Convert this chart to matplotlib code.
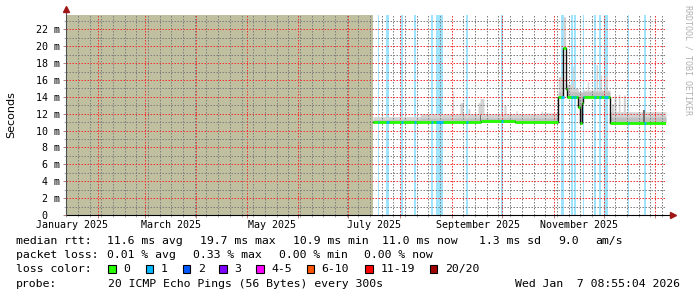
import numpy as np
import pandas as pd
import matplotlib
matplotlib.use('Agg')
import matplotlib.pyplot as plt
import matplotlib.dates as mdates
import matplotlib.ticker as mticker
import matplotlib.transforms as mtransforms
from matplotlib.patches import Rectangle

# ---------------- data ----------------
view_start = '2025-01-12 20:00'
view_end = '2026-01-07 08:55:04'
data_start = '2025-07-15 19:00'

# median rtt (ms), step changes
median_times = ['2025-07-15 19:00', '2025-09-18 12:00', '2025-10-09 00:00', '2025-11-03 19:00',
                '2025-11-06 11:00', '2025-11-06 19:00', '2025-11-08 10:00', '2025-11-09 05:00',
                '2025-11-15 19:00', '2025-11-16 19:00', '2025-11-18 00:00', '2025-11-18 10:00',
                '2025-12-04 19:00']
median_ms = [11.0, 11.15, 11.05, 13.94, 16.2, 19.75, 14.9, 13.94, 12.84, 10.94, 13.3, 14.0, 10.94]

# upper edge of the smoke (ms), step changes
smoke_times = ['2025-07-15 19:00', '2025-08-13 00:00', '2025-09-01 13:00', '2025-09-02 03:00',
               '2025-09-05 22:00', '2025-09-07 17:00', '2025-09-10 17:00', '2025-09-11 22:00',
               '2025-09-16 17:00', '2025-09-17 22:00', '2025-09-20 07:00', '2025-10-02 07:00',
               '2025-10-03 12:00', '2025-10-09 10:00', '2025-10-10 05:00', '2025-10-24 10:00',
               '2025-10-25 05:00', '2025-11-03 19:00', '2025-11-06 19:00', '2025-11-08 05:00',
               '2025-11-12 10:00', '2025-11-13 05:00', '2025-11-15 19:00', '2025-11-18 19:00',
               '2025-11-21 05:00', '2025-11-22 00:00', '2025-11-26 10:00', '2025-11-27 10:00',
               '2025-11-28 19:00', '2025-11-29 19:00', '2025-12-01 23:00', '2025-12-03 05:00',
               '2025-12-04 19:00', '2025-12-05 19:00', '2025-12-06 19:00', '2025-12-07 05:00',
               '2025-12-08 10:00', '2025-12-09 19:00', '2025-12-10 19:00', '2025-12-12 19:00',
               '2025-12-14 00:00']
smoke_top_ms = [11.65, 12.0, 14.6, 12.0,
                13.3, 12.0, 12.6, 12.0,
                13.3, 13.8, 12.0, 13.0,
                12.0, 12.35, 12.0, 12.3,
                12.1, 16.4, 23.5, 15.5,
                17.6, 15.0, 13.5, 14.8,
                15.8, 14.8, 17.8, 14.8,
                16.6, 14.8, 16.5, 14.8,
                12.24, 13.2, 12.24, 14.2,
                12.24, 14.3, 12.24, 14.2,
                12.24]

# denser part of the smoke (ms)
smoke_mid_times = ['2025-07-15 19:00', '2025-08-13 00:00', '2025-11-03 19:00', '2025-12-04 19:00']
smoke_mid_ms = [11.3, 11.5, 14.6, 11.6]

# dark smoke spikes
dark_times = ['2025-09-17 22:00', '2025-12-24 19:00']
dark_days = [0.6, 1.2]
dark_top_ms = [11.8, 12.4]

# intervals with 1 lost ping (loss background)
loss_times = ['2025-07-18 19:00', '2025-07-23 14:00', '2025-08-01 10:00', '2025-08-09 07:00',
              '2025-08-19 07:00', '2025-08-22 12:00', '2025-09-09 07:00', '2025-09-30 12:00',
              '2025-11-05 14:00', '2025-11-11 10:00', '2025-11-13 05:00', '2025-11-18 10:00',
              '2025-11-25 05:00', '2025-11-28 05:00', '2025-12-01 00:00', '2025-12-15 10:00',
              '2025-12-25 02:00']
loss_days = [0.9, 1.8, 1.4, 1.2, 1.2, 4.2, 1.2, 1.2, 1.8, 1.2, 1.2, 0.6, 1.2, 1.2, 2.6, 0.6, 1.2]

month_labels = ['January 2025', 'March 2025', 'May 2025', 'July 2025', 'September 2025', 'November 2025']
month_label_dates = ['2025-01-01', '2025-03-01', '2025-05-01', '2025-07-01', '2025-09-01', '2025-11-01']

rtt_stats = [11.6, 19.7, 10.9, 11.0]
rtt_sd = 1.3
rtt_am = 9.0
loss_stats = [0.01, 0.33, 0.00, 0.00]
loss_legend = ['0', '1', '2', '3', '4-5', '6-10', '11-19', '20/20']
loss_colors = ['#26ff00', '#00b8ff', '#0059ff', '#7e00ff', '#ff00ff', '#ff5500', '#ff0000', '#a10000']
probe_text = '20 ICMP Echo Pings (56 Bytes) every 300s'
stamp_text = 'Wed Jan  7 08:55:04 2026'

# ---------------- figure ----------------
W, H = 697, 297
fig = plt.figure(figsize=(W / 100, H / 100), dpi=100)
fig.patch.set_facecolor('white')
ax = fig.add_axes([66 / W, (H - 215) / H, 600 / W, 200 / H])
ax.set_facecolor('white')

MONO = 'DejaVu Sans Mono'
t_start = pd.Timestamp(view_start)
t_end = pd.Timestamp(view_end)
t_data = pd.Timestamp(data_start)
YMAX = 23.7


def step_eval(times, values, grid):
    tn = mdates.date2num(pd.to_datetime(times))
    idx = np.searchsorted(tn, grid, side='right') - 1
    idx = np.clip(idx, 0, len(values) - 1)
    return np.asarray(values, dtype=float)[idx]


# unknown area
ax.axvspan(mdates.date2num(t_start), mdates.date2num(t_data), color='#c0c0a0', lw=0, zorder=1)

# loss background bars
for t, d in zip(loss_times, loss_days):
    t0 = mdates.date2num(pd.Timestamp(t))
    ax.axvspan(t0, t0 + d, color='#00b8ff', alpha=0.38, lw=0, zorder=1.2)

# smoke
grid = np.arange(mdates.date2num(t_data), mdates.date2num(t_end) + 1e-9, 1 / 24)
med_g = step_eval(median_times, median_ms, grid)
top_g = np.maximum(step_eval(smoke_times, smoke_top_ms, grid), med_g)
mid_g = np.maximum(step_eval(smoke_mid_times, smoke_mid_ms, grid), med_g)
ax.fill_between(grid, med_g, top_g, step='post', color='#d3d3d3', lw=0, zorder=1.5)
ax.fill_between(grid, med_g, mid_g, step='post', color='#c0c0c0', lw=0, zorder=1.6)
for t, d, top in zip(dark_times, dark_days, dark_top_ms):
    t0 = mdates.date2num(pd.Timestamp(t))
    m = step_eval(median_times, median_ms, np.array([t0]))[0]
    ax.fill_between([t0, t0 + d], [m, m], [top, top], color='#707070', lw=0, zorder=1.7)

# median line
med_t = mdates.date2num(pd.to_datetime(median_times))
med_ends = np.append(med_t[1:], mdates.date2num(t_end))
ax.step(np.append(med_t, mdates.date2num(t_end)), median_ms + [median_ms[-1]], where='post',
        color='#101010', lw=1.0, zorder=4)
ax.hlines(median_ms, med_t, med_ends, colors=loss_colors[0], lw=2.0, zorder=5)
for t, d in zip(loss_times, loss_days):
    t0 = mdates.date2num(pd.Timestamp(t))
    v = step_eval(median_times, median_ms, np.array([t0]))[0]
    ax.hlines(v, t0, t0 + d, colors=loss_colors[1], lw=2.0, zorder=6)

# axes limits and grid
ax.set_xlim(mdates.date2num(t_start), mdates.date2num(t_end))
ax.set_ylim(0, YMAX)
ax.xaxis.set_major_locator(mdates.MonthLocator())
ax.xaxis.set_minor_locator(mdates.WeekdayLocator(byweekday=mdates.MO))
ax.xaxis.set_major_formatter(mticker.NullFormatter())
ax.yaxis.set_major_locator(mticker.MultipleLocator(2))
ax.yaxis.set_minor_locator(mticker.MultipleLocator(1))
ax.yaxis.set_major_formatter(mticker.FuncFormatter(lambda v, p: '0  ' if abs(v) < 1e-9 else f'{v:.0f} m'))
ax.set_axisbelow(False)
ax.grid(which='major', color=(0.95, 0.2, 0.2, 0.3), ls=(0, (1.5, 1.5)), lw=0.72)
ax.grid(which='minor', color=(0.5, 0.5, 0.5, 0.26), ls=(0, (1.5, 1.5)), lw=0.72)
ax.tick_params(which='major', length=2.2, width=0.72, color='#c08080', pad=2.2)
ax.tick_params(which='minor', length=1.4, width=0.72, color='#b0b0b0')
for lab in ax.get_yticklabels():
    lab.set_fontfamily(MONO)
    lab.set_fontsize(7.2)
for s in ax.spines.values():
    s.set_visible(False)

# month labels centred mid-month
trans = mtransforms.blended_transform_factory(ax.transData, ax.transAxes)
for lab, d in zip(month_labels, month_label_dates):
    xd = mdates.date2num(pd.Timestamp(d) + pd.Timedelta(days=15.5))
    ax.text(xd, -10 / 200, lab, transform=trans, ha='center', va='center',
            fontsize=7.2, family=MONO, color='black', clip_on=False)

# axis lines with arrows
ax.plot([0, 1.008], [0, 0], transform=ax.transAxes, color='black', lw=0.8, clip_on=False, zorder=8)
ax.plot([0, 0], [0, 1.02], transform=ax.transAxes, color='#505050', lw=0.8, clip_on=False, zorder=8)
ax.plot([1.0115], [0], marker='>', ms=4, color='#a01515', transform=ax.transAxes, clip_on=False, zorder=9)
ax.plot([0], [1.03], marker='^', ms=4, color='#a01515', transform=ax.transAxes, clip_on=False, zorder=9)

# axis title and watermark
fig.text(11 / W, 1 - 114.3 / H, 'Seconds', rotation=90, ha='center', va='center',
         fontsize=8, family='DejaVu Sans')
fig.text(688 / W, 1 - 4.7 / H, 'RRDTOOL / TOBI OETIKER', rotation=270, ha='center', va='top',
         fontsize=6, family=MONO, color='#b0b0b0')

# legend
def ftext(x, y, s, **kw):
    fig.text(x / W, 1 - y / H, s, ha=kw.pop('ha', 'left'), va='center', fontsize=8.25,
             family=MONO, color='black', **kw)

r1, r2, r3, r4 = 241.3, 255.3, 269.3, 283.7
ftext(16, r1, 'median rtt:')
for x, v, suf in zip([107.3, 200, 293.3, 382.2], rtt_stats, ['avg', 'max', 'min', 'now']):
    ftext(x, r1, f'{v:.1f} ms {suf}')
ftext(479, r1, f'{rtt_sd:.1f} ms sd')
ftext(557.8, r1, f'{rtt_am:.1f}')
ftext(595.6, r1, 'am/s')

ftext(16, r2, 'packet loss:')
for x, v, suf in zip([107.3, 193.3, 279.3, 364.4], loss_stats, ['avg', 'max', 'min', 'now']):
    ftext(x, r2, f'{v:.2f} % {suf}')

ftext(16, r3, 'loss color:')
box_x = [108.3, 145.7, 182.7, 219.3, 256, 306.7, 365.3, 429.8]
for bx, lab, col in zip(box_x, loss_legend, loss_colors):
    fig.add_artist(Rectangle((bx / W, 1 - 272.5 / H), 7.5 / W, 7.5 / H, transform=fig.transFigure,
                             facecolor=col, edgecolor='black', lw=0.8))
    ftext(bx + 15, r3, lab)

ftext(16, r4, 'probe:')
ftext(107.6, r4, probe_text)
ftext(680, r4, stamp_text, ha='right')

fig.savefig('out.png', dpi=100, facecolor='white')
